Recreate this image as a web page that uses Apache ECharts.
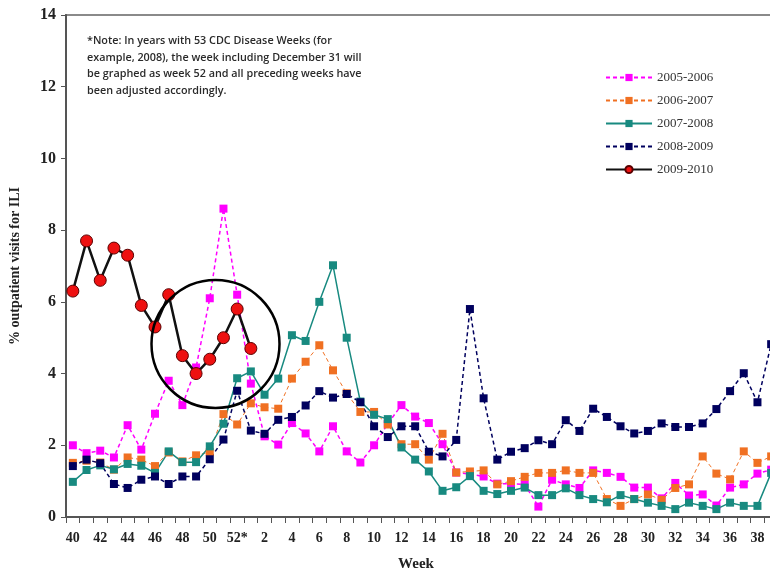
<!DOCTYPE html>
<html>
<head>
<meta charset="utf-8">
<script src="https://cdn.jsdelivr.net/npm/echarts@6/dist/echarts.min.js"></script>
<style>
html, body { margin: 0; padding: 0; background: #fff; overflow: hidden; }
#chart { width: 800px; height: 577px; }
</style>
</head>
<body>
<div id="chart"></div>
<script>
// week labels: 40..51, 52*, 1..39
var weeks = ['40','41','42','43','44','45','46','47','48','49','50','51','52*',
  '1','2','3','4','5','6','7','8','9','10','11','12','13','14','15','16','17','18','19','20',
  '21','22','23','24','25','26','27','28','29','30','31','32','33','34','35','36','37','38','39'];

var s0506 = [2.0, 1.78, 1.85, 1.66, 2.56, 1.88, 2.88, 3.8, 3.12, 4.17, 6.1, 8.6, 6.2,
  3.72, 2.25, 2.02, 2.62, 2.33, 1.83, 2.53, 1.83, 1.52, 2.0, 2.6, 3.12, 2.8, 2.62, 2.03,
  1.24, 1.2, 1.13, 0.93, 0.93, 0.91, 0.29, 1.04, 0.91, 0.81, 1.3, 1.23, 1.12, 0.82, 0.82,
  0.52, 0.95, 0.6, 0.63, 0.32, 0.82, 0.91, 1.21, 1.32];
var s0607 = [1.51, 1.57, 1.52, 1.32, 1.66, 1.6, 1.42, 1.8, 1.55, 1.72, 1.81, 2.87, 2.58,
  3.17, 3.06, 3.02, 3.86, 4.33, 4.79, 4.09, 3.45, 2.93, 2.93, 2.58, 2.03, 2.03, 1.6, 2.32,
  1.24, 1.27, 1.3, 0.91, 1.0, 1.12, 1.23, 1.23, 1.3, 1.23, 1.23, 0.5, 0.31, 0.5, 0.63,
  0.48, 0.81, 0.91, 1.69, 1.21, 1.05, 1.83, 1.51, 1.69];
var s0708 = [0.98, 1.31, 1.44, 1.33, 1.48, 1.43, 1.23, 1.83, 1.53, 1.53, 1.97, 2.6, 3.87,
  4.06, 3.41, 3.86, 5.07, 4.91, 6.0, 7.02, 5.0, 3.22, 2.85, 2.73, 1.94, 1.6, 1.27, 0.73,
  0.83, 1.14, 0.73, 0.64, 0.73, 0.82, 0.61, 0.61, 0.8, 0.61, 0.5, 0.41, 0.61, 0.5, 0.4,
  0.31, 0.22, 0.4, 0.31, 0.22, 0.4, 0.31, 0.31, 1.23];
var s0809 = [1.42, 1.6, 1.5, 0.92, 0.81, 1.04, 1.13, 0.92, 1.13, 1.13, 1.61, 2.16, 3.52,
  2.41, 2.32, 2.71, 2.79, 3.11, 3.51, 3.33, 3.43, 3.2, 2.53, 2.23, 2.53, 2.53, 1.82, 1.69,
  2.15, 5.8, 3.31, 1.6, 1.82, 1.92, 2.14, 2.03, 2.7, 2.4, 3.02, 2.79, 2.53, 2.33, 2.4,
  2.61, 2.51, 2.51, 2.61, 3.01, 3.51, 4.01, 3.2, 4.82];
var s0910 = [6.3, 7.7, 6.6, 7.5, 7.3, 5.9, 5.3, 6.2, 4.5, 4.0, 4.4, 5.0, 5.8, 4.7];

var yTicks = [0, 2, 4, 6, 8, 10, 12, 14];

var serif = '"Liberation Serif", "DejaVu Serif", serif';

var mycharts = echarts.init(document.getElementById('chart'));

function squareLine(name, data, color, dashed, width) {
    return {
        name: name,
        type: 'line',
        data: data,
        symbol: 'rect',
        symbolSize: 8,
        showAllSymbol: true,
        lineStyle: {
            color: color,
            width: width,
            type: dashed ? [4, 3] : 'solid'
        },
        itemStyle: { color: color },
        emphasis: { disabled: true }
    };
}

mycharts.setOption({
    animation: false,
    grid: {
        left: 64,
        top: 15,
        bottom: 53,
        right: 22,
        show: true,
        borderColor: '#8a8a8a',
        borderWidth: 2
    },
    legend: {
        orient: 'vertical',
        left: 600,
        top: 66,
        itemWidth: 46,
        itemHeight: 9,
        itemGap: 10,
        textStyle: {
            fontFamily: serif,
            fontSize: 13,
            color: '#333'
        },
        data: ['2005-2006', '2006-2007', '2007-2008', '2008-2009', '2009-2010']
    },
    xAxis: {
        type: 'category',
        data: weeks,
        boundaryGap: true,
        name: 'Week',
        nameLocation: 'middle',
        nameGap: 40,
        nameTextStyle: {
            fontFamily: serif,
            fontWeight: 'bold',
            fontSize: 15,
            color: '#222',
            padding: [0, 12, 0, 0]
        },
        axisLine: { lineStyle: { color: '#555', width: 2 } },
        axisTick: { show: true, interval: 0, length: 6, lineStyle: { color: '#555' } },
        axisLabel: {
            interval: 1,
            margin: 14,
            fontFamily: serif,
            fontWeight: 'bold',
            fontSize: 14,
            color: '#222'
        },
        splitLine: { show: false }
    },
    yAxis: {
        type: 'value',
        min: yTicks[0],
        max: yTicks[yTicks.length - 1],
        interval: 2,
        name: '% outpatient visits for ILI',
        nameLocation: 'middle',
        nameGap: 44,
        nameRotate: 90,
        nameTextStyle: {
            fontFamily: serif,
            fontWeight: 'bold',
            fontSize: 14,
            color: '#222',
            padding: [0, 0, 0, 0]
        },
        axisLine: { show: true, lineStyle: { color: '#555', width: 2 } },
        axisTick: { show: true, length: 5, lineStyle: { color: '#555' } },
        axisLabel: {
            margin: 10,
            fontFamily: serif,
            fontWeight: 'bold',
            fontSize: 16,
            color: '#222'
        },
        splitLine: { show: false }
    },
    graphic: [
        {
            type: 'text',
            left: 87,
            top: 33,
            style: {
                text: '*Note: In years with 53 CDC Disease Weeks (for\nexample, 2008), the week including December 31 will\nbe graphed as week 52 and all preceding weeks have\nbeen adjusted accordingly.',
                font: '600 10.8px "Open Sans", "Liberation Sans", sans-serif',
                lineHeight: 16.5,
                fill: '#2a2a2a'
            },
            z: 10
        },
        {
            type: 'circle',
            shape: { cx: 215.5, cy: 344, r: 64 },
            style: { fill: 'none', stroke: '#000', lineWidth: 2.5 },
            z: 10
        }
    ],
    series: [
        squareLine('2005-2006', s0506, '#ff00ff', true, 1.5),
        squareLine('2006-2007', s0607, '#f07022', true, 1),
        squareLine('2007-2008', s0708, '#188a80', false, 1.5),
        squareLine('2008-2009', s0809, '#00005e', true, 1.5),
        {
            name: '2009-2010',
            type: 'line',
            data: s0910,
            symbol: 'circle',
            symbolSize: 12,
            showAllSymbol: true,
            z: 5,
            lineStyle: { color: '#111', width: 2.5 },
            itemStyle: { color: '#ee1111', borderColor: '#5a0000', borderWidth: 1 },
            emphasis: { disabled: true }
        }
    ]
});
</script>
</body>
</html>
